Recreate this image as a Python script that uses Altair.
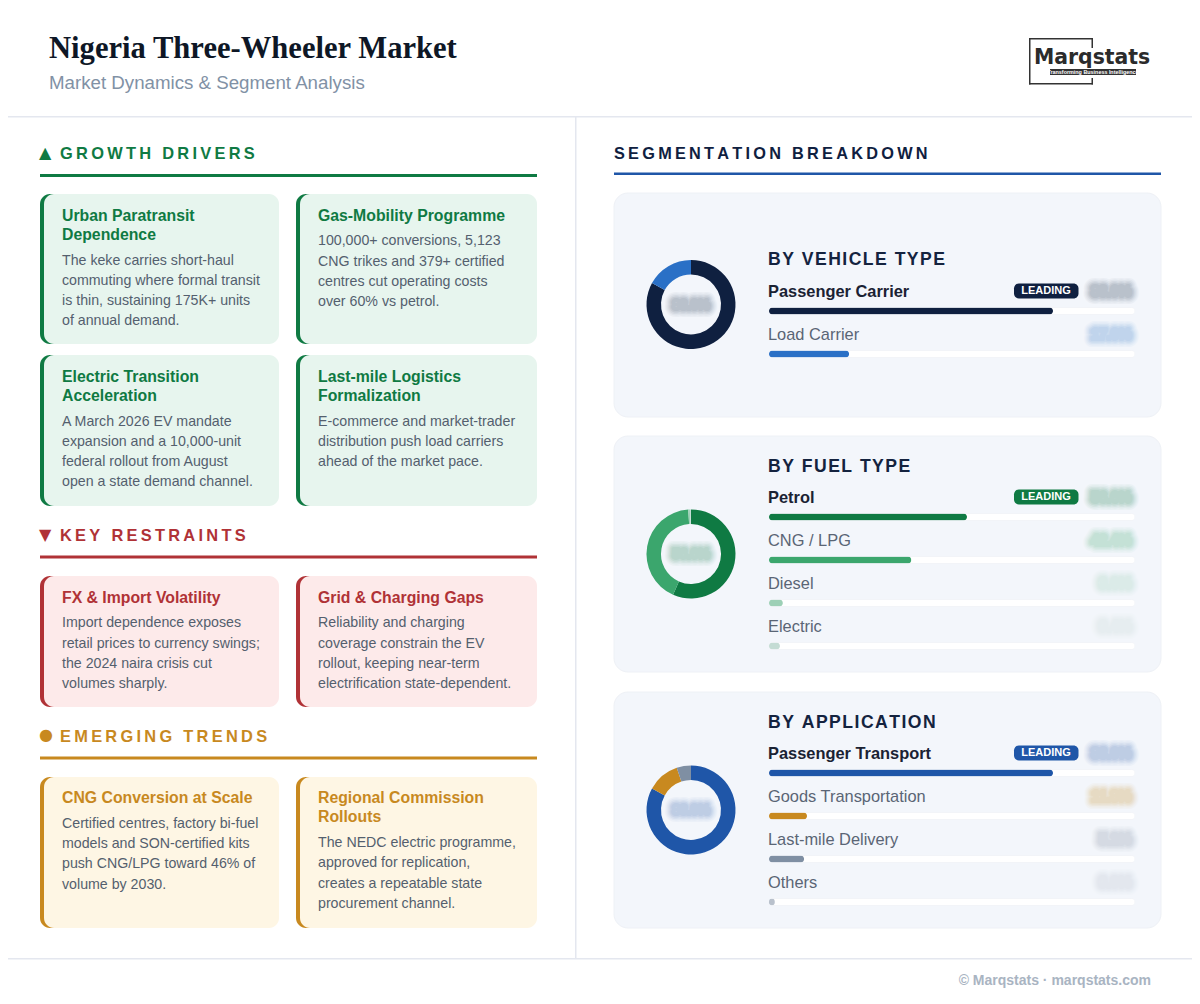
import altair as alt
import pandas as pd

SANS = "Liberation Sans"
SERIF = "Liberation Serif"
THIN = "\u2009"
HAIR = "\u200a"

# segmentation values (donut share, bar fill in %)
vehicle_labels = ["Passenger Carrier", "Load Carrier"]
vehicle_share = [83.0, 17.0]
vehicle_bars = [77.6, 21.9]
vehicle_colors = ["#0f2040", "#2a70c6"]

fuel_labels = ["Petrol", "CNG / LPG", "Diesel", "Electric"]
fuel_share = [56.6, 42.4, 0.6, 0.4]
fuel_bars = [54.1, 38.9, 3.8, 3.0]
fuel_colors = ["#0f7a43", "#3ba66d", "#9dd0b6", "#c4dcd4"]

app_labels = ["Passenger Transport", "Goods Transportation", "Last-mile Delivery", "Others"]
app_share = [83.0, 11.8, 5.2, 0.0]
app_bars = [77.6, 10.4, 9.6, 1.6]
app_colors = ["#1f56a8", "#c8891f", "#7f8fa3", "#b9c1cc"]

# card copy
growth_cards = [
    (["Urban Paratransit", "Dependence"],
     ["The keke carries short-haul", "commuting where formal transit",
      "is thin, sustaining 175K+ units", "of annual demand."]),
    (["Gas-Mobility Programme"],
     ["100,000+ conversions, 5,123", "CNG trikes and 379+ certified",
      "centres cut operating costs", "over 60% vs petrol."]),
    (["Electric Transition", "Acceleration"],
     ["A March 2026 EV mandate", "expansion and a 10,000-unit",
      "federal rollout from August", "open a state demand channel."]),
    (["Last-mile Logistics", "Formalization"],
     ["E-commerce and market-trader", "distribution push load carriers",
      "ahead of the market pace."]),
]
restraint_cards = [
    (["FX & Import Volatility"],
     ["Import dependence exposes", "retail prices to currency swings;",
      "the 2024 naira crisis cut", "volumes sharply."]),
    (["Grid & Charging Gaps"],
     ["Reliability and charging", "coverage constrain the EV",
      "rollout, keeping near-term", "electrification state-dependent."]),
]
trend_cards = [
    (["CNG Conversion at Scale"],
     ["Certified centres, factory bi-fuel", "models and SON-certified kits",
      "push CNG/LPG toward 46% of", "volume by 2030."]),
    (["Regional Commission", "Rollouts"],
     ["The NEDC electric programme,", "approved for replication,",
      "creates a repeatable state", "procurement channel."]),
]

GREEN, GREEN_BG = "#0f7a43", "#e7f5ee"
RED, RED_BG = "#b03236", "#fdeaea"
AMBER, AMBER_BG = "#c8891f", "#fef6e4"
NAVY, BLUE = "#0f2040", "#1f56a8"
BODY = "#545f6e"

all_labels = vehicle_labels + fuel_labels + app_labels
all_colors = vehicle_colors + fuel_colors + app_colors
color_scale = alt.Scale(domain=all_labels, range=all_colors)
share_scale = alt.Scale(domain=[0, 100], range=[761, 1127])
# the reference blurs its figures: thick, faint strokes over the digits
SMUDGE = [(16, 0.03), (13, 0.04), (10, 0.05), (7, 0.07), (4, 0.06)]
layers = []


def spaced(s, gap=THIN):
    return gap.join(s)


def rect(x0, y0, x1, y1, color, radius=0, stroke=None):
    mark = dict(color=color, cornerRadius=radius)
    if stroke:
        mark.update(stroke=stroke, strokeWidth=1)
    return alt.Chart().mark_rect(**mark).encode(
        x=alt.value(x0 - 8), x2=alt.value(x1 - 8),
        y=alt.value(y0 - 8), y2=alt.value(y1 - 8),
    )


def text(s, x, y, size, color, weight="normal", font=SANS, align="left"):
    return alt.Chart().mark_text(
        font=font, fontSize=size, color=color, fontWeight=weight,
        align=align, baseline="middle",
    ).encode(x=alt.value(x - 8), y=alt.value(y - 8), text=alt.value(s))


def card(box, content, accent, bg, title_y=21.5):
    x0, y0, x1, y1 = box
    titles, body = content
    layers.append(rect(x0, y0, x0 + 30, y1, accent, 10))
    layers.append(rect(x0 + 4, y0, x1, y1, bg, 10))
    y = y0 + title_y
    for line in titles:
        layers.append(text(line, x0 + 22, y, 15.8, accent, "bold"))
        y += 19.3
    y += 6.6
    for line in body:
        layers.append(text(line, x0 + 22, y, 14.2, BODY))
        y += 20.2


def section(glyph, title, y, rule_y, accent, glyph_dy=-1):
    layers.append(text(glyph, 39, y + glyph_dy, 16, accent, font="DejaVu Sans"))
    layers.append(text(spaced(title), 60, y, 16.4, accent, "bold"))
    layers.append(rect(40, rule_y - 1.5, 537, rule_y + 1.5, accent))


def block(labels, shares, bars, centre, first_bar, title, title_y, centre_y, badge_color):
    df = pd.DataFrame({
        "label": labels, "share": shares, "bar": bars,
        "order": list(range(len(labels))),
        "value": [f"{v:.1f}%" for v in shares],
        "lead": [i == 0 for i in range(len(labels))],
    })
    last_bar = first_bar + 43 * (len(labels) - 1)
    y = alt.Y("label:N", axis=None, scale=alt.Scale(
        type="point", domain=labels, range=[first_bar - 8, last_bar - 8], padding=0))
    x = alt.X("bar:Q", axis=None, scale=share_scale)
    color = alt.Color("label:N", legend=None, scale=color_scale)
    lead_color = all_colors[all_labels.index(labels[0])]
    base = alt.Chart(df)
    parts = [
        base.mark_arc(innerRadius=30, outerRadius=44.5).encode(
            theta=alt.Theta("share:Q", stack=True, scale=alt.Scale(domain=[0, 100])),
            color=color, order=alt.Order("order:Q"),
            x=alt.value(683), y=alt.value(centre_y - 8),
        ),
        base.transform_calculate(track="100").mark_bar(
            size=7, cornerRadius=3.5, color="#ffffff", stroke="#f0f2f6", strokeWidth=0.5,
        ).encode(x=alt.X("track:Q", axis=None, scale=share_scale), y=y),
        base.mark_bar(size=7, cornerRadius=3.5).encode(x=x, y=y, color=color),
        base.transform_filter("datum.lead").mark_text(
            font=SANS, fontSize=16.4, fontWeight="bold", color="#1a2233",
            align="left", baseline="middle", dy=-19.5,
        ).encode(x=alt.value(760), y=y, text="label:N"),
        base.transform_filter("!datum.lead").mark_text(
            font=SANS, fontSize=16.4, color="#5a6575",
            align="left", baseline="middle", dy=-19.5,
        ).encode(x=alt.value(760), y=y, text="label:N"),
    ]
    for width, op in SMUDGE:
        # figures at the end of each row
        parts.append(base.mark_text(
            font=SANS, fontSize=14, fontWeight="bold", baseline="middle", align="right",
            strokeWidth=width, strokeJoin="round", opacity=op, dy=-19.5,
        ).encode(
            x=alt.value(1123), y=y, text="value:N", color=color,
            stroke=alt.Stroke("label:N", legend=None, scale=color_scale),
        ))
        # figure in the hole of the donut
        parts.append(alt.Chart().mark_text(
            font=SANS, fontSize=13, fontWeight="bold", baseline="middle", align="center",
            strokeWidth=width, strokeJoin="round", opacity=op,
        ).encode(
            x=alt.value(683), y=alt.value(centre_y - 8), text=alt.value(centre),
            color=alt.value(lead_color), stroke=alt.value(lead_color),
        ))
    parts.append(text(spaced(title, HAIR), 768, title_y, 17.6, "#14233f", "bold"))
    badge_y = first_bar - 20
    parts.append(rect(1014, badge_y - 7.5, 1078.5, badge_y + 7.5, badge_color, 5))
    parts.append(text("LEADING", 1046, badge_y - 0.5, 11, "#ffffff", "bold", align="center"))
    return alt.layer(*parts)


# frame
layers.append(rect(0, 116, 1200, 117.5, "#e4e7ef"))
layers.append(rect(575, 117, 576.5, 958, "#e4e7ef"))
layers.append(rect(0, 958, 1200, 959.5, "#e4e7ef"))

# header
layers.append(text("Nigeria Three-Wheeler Market", 49, 49, 30.6, "#0e1726", "bold", SERIF))
layers.append(text("Market Dynamics & Segment Analysis", 49, 82.5, 18.7, "#8191a5"))

# logo
LOGO = "#333333"
layers.append(rect(1029, 38, 1093, 39.5, LOGO))
layers.append(rect(1029, 38, 1030.5, 84.5, LOGO))
layers.append(rect(1029, 83, 1093, 84.5, LOGO))
layers.append(rect(1091.5, 38, 1093, 48, LOGO))
layers.append(rect(1091.5, 78, 1093, 84.5, LOGO))
layers.append(text("Marqstats", 1034, 58, 20.4, "#2b2b2b", "bold", "DejaVu Sans"))
layers.append(rect(1050, 69, 1136, 75, "#333333"))
layers.append(text("Transforming Business Intelligence", 1093, 72.2, 5.4, "#ffffff", "bold", align="center"))

# left column
section("\u25b2", "GROWTH DRIVERS", 154, 175.5, GREEN)
grow_boxes = [(40, 194, 279, 344), (296, 194, 537, 344), (40, 355, 279, 506), (296, 355, 537, 506)]
for b, c in zip(grow_boxes, growth_cards):
    card(b, c, GREEN, GREEN_BG)

section("\u25bc", "KEY RESTRAINTS", 536, 557, RED)
for b, c in zip([(40, 576, 279, 707), (296, 576, 537, 707)], restraint_cards):
    card(b, c, RED, RED_BG)

section("\u25cf", "EMERGING TRENDS", 737, 758, AMBER, -2)
for b, c in zip([(40, 777, 279, 928), (296, 777, 537, 928)], trend_cards):
    card(b, c, AMBER, AMBER_BG, 21)

# right column
layers.append(text(spaced("SEGMENTATION BREAKDOWN"), 614, 154, 16.3, NAVY, "bold"))
layers.append(rect(614, 172.5, 1161, 175, BLUE))
for y0, y1 in [(193, 417), (436, 672), (692, 928)]:
    layers.append(rect(614, y0, 1161, y1, "#f3f6fb", 14, "#eef1f6"))

layers.append(block(vehicle_labels, vehicle_share, vehicle_bars, "83.0%", 311, "BY VEHICLE TYPE", 259.5, 304.5, NAVY))
layers.append(block(fuel_labels, fuel_share, fuel_bars, "56.6%", 517, "BY FUEL TYPE", 466.5, 554, GREEN))
layers.append(block(app_labels, app_share, app_bars, "83.0%", 773, "BY APPLICATION", 722.5, 810, BLUE))

# footer
layers.append(text("\u00a9 Marqstats \u00b7 marqstats.com", 1151, 981, 14, "#a9b4c2", "bold", align="right"))

chart = alt.layer(*layers).resolve_scale(y="independent").properties(
    width=1184, height=988, padding=0,
    autosize=alt.AutoSizeParams(type="none"),
    background="#ffffff",
).configure_view(stroke=None)

chart.save("out.html", embed_options={"renderer": "svg", "actions": False})
